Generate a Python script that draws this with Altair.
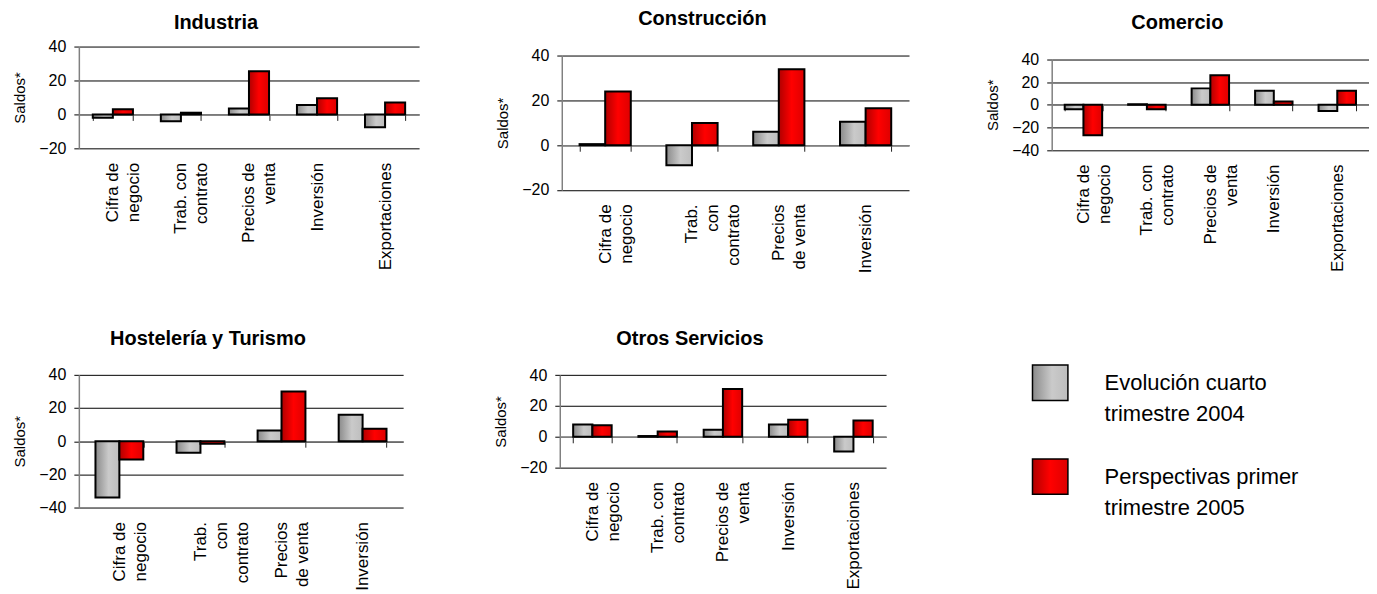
import altair as alt
import pandas as pd

SERIES = ["Evolución cuarto trimestre 2004", "Perspectivas primer trimestre 2005"]
LEGEND_TEXT = ["Evolución cuarto|trimestre 2004", "Perspectivas primer|trimestre 2005"]

CATS5 = ["Cifra de|negocio", "Trab. con|contrato", "Precios de|venta", "Inversión", "Exportaciones"]
CATS4 = ["Cifra de|negocio", "Trab.|con|contrato", "Precios|de venta", "Inversión"]

ind_evol = [-2, -4, 3.5, 5.5, -7.5]
ind_persp = [3, 1, 25.5, 9.5, 7]
con_evol = [0.5, -9, 6, 10.5]
con_persp = [24, 10, 34, 16.5]
com_evol = [-4, 0.5, 14.5, 12.5, -5.5]
com_persp = [-27, -4, 26, 3, 12.5]
hos_evol = [-34, -7, 6.5, 16]
hos_persp = [-11, -1.5, 30, 7.5]
otr_evol = [8, 0.5, 4.5, 8, -9.5]
otr_persp = [7.5, 3.5, 31, 11, 10.5]

FONT = "Liberation Sans"
YTITLE_SIZE = 15

GRAY = alt.Gradient(gradient="linear", x1=0, x2=1, y1=0, y2=0,
                    stops=[alt.GradientStop(color="#8a8a8a", offset=0),
                           alt.GradientStop(color="#cacaca", offset=0.55),
                           alt.GradientStop(color="#bdbdbd", offset=1)])
RED = alt.Gradient(gradient="linear", x1=0, x2=1, y1=0, y2=0,
                   stops=[alt.GradientStop(color="#b00000", offset=0),
                          alt.GradientStop(color="#ff0000", offset=0.5),
                          alt.GradientStop(color="#dd0000", offset=1)])


def panel(title, cats, evol, persp, ymin, w, h, top_pad, title_offset):
    df = pd.DataFrame({
        "cat": cats * 2,
        "serie": [SERIES[0]] * len(cats) + [SERIES[1]] * len(cats),
        "valor": evol + persp,
    })
    zfb = h * (0 - ymin) / (40 - ymin)
    H = h + top_pad
    base = alt.Chart(df).encode(
        x=alt.X("cat:N", sort=cats, title=None,
                scale=alt.Scale(paddingInner=0.41, paddingOuter=0.205),
                axis=alt.Axis(labelExpr="split(datum.label, '|')", labelAngle=270,
                              labelAlign="right", labelBaseline="middle",
                              labelFontSize=17, labelLineHeight=21, labelFont=FONT,
                              labelColor="black", labelOverlap=False,
                              labelPadding=zfb + 14 - 6,
                              offset=-zfb, grid=False,
                              domainColor="#808080", domainWidth=1.5,
                              tickColor="#222222", tickSize=6, tickBand="extent")),
        xOffset=alt.XOffset("serie:N", scale=alt.Scale(domain=SERIES, paddingInner=0, paddingOuter=0)),
        y=alt.Y("valor:Q",
                scale=alt.Scale(domain=[ymin, 40], nice=False, range=[H, top_pad]),
                axis=alt.Axis(title="Saldos*", values=list(range(ymin, 41, 20)), grid=True,
                              gridColor="black", gridWidth=1,
                              domainColor="#808080", domainWidth=1.5,
                              tickColor="black", tickSize=5, labelPadding=8,
                              labelFontSize=16, labelFont=FONT, labelColor="black",
                              titleFontSize=YTITLE_SIZE, titleFontWeight="normal", titleFont=FONT,
                              titleColor="black", titlePadding=11)),
    )
    g = base.transform_filter(alt.datum.serie == SERIES[0]).mark_bar(
        fill=GRAY, stroke="black", strokeWidth=2)
    r = base.transform_filter(alt.datum.serie == SERIES[1]).mark_bar(
        fill=RED, stroke="black", strokeWidth=2)
    return alt.layer(g, r).properties(
        width=w, height=H,
        title=alt.Title(title, offset=title_offset, fontSize=20, fontWeight="bold",
                        font=FONT, color="black", anchor="middle", frame="bounds"))


p1 = panel("Industria", CATS5, ind_evol, ind_persp, -20, 341, 102, 0, 6)
p2 = panel("Construcción", CATS4, con_evol, con_persp, -20, 348, 134.4, 9.3, 17.5)
p3 = panel("Comercio", CATS5, com_evol, com_persp, -40, 318, 90.7, 13, 13.5)
p4 = panel("Hostelería y Turismo", CATS4, hos_evol, hos_persp, -40, 325, 133, 0, 18)
p5 = panel("Otros Servicios", CATS5, otr_evol, otr_persp, -20, 327, 92.7, 0.3, 18)

leg_df = pd.DataFrame({"serie": SERIES, "texto": LEGEND_TEXT})
lbase = alt.Chart(leg_df).encode(
    y=alt.Y("serie:N", sort=SERIES,
            scale=alt.Scale(type="point", range=[8, 102], padding=0), axis=None))
lg = lbase.transform_filter(alt.datum.serie == SERIES[0]).mark_square(
    size=1260, fill=GRAY, stroke="black", strokeWidth=1.5, opacity=1).encode(x=alt.value(18.5))
lr = lbase.transform_filter(alt.datum.serie == SERIES[1]).mark_square(
    size=1260, fill=RED, stroke="black", strokeWidth=1.5, opacity=1).encode(x=alt.value(18.5))
lt = lbase.mark_text(align="left", baseline="top", dy=-10, fontSize=22, lineBreak="|",
                     lineHeight=31, font=FONT, color="black").encode(
    x=alt.value(73), text="texto:N")
legend = alt.layer(lg, lr, lt).properties(width=300, height=150)

RES = dict(x="independent", y="independent", xOffset="independent")
row1 = alt.hconcat(p1, p2, p3, spacing=76).resolve_scale(**RES)
row2a = alt.hconcat(p4, p5, spacing=90).resolve_scale(**RES)
row2 = alt.hconcat(row2a, legend, spacing=143).resolve_scale(**RES)
chart = alt.vconcat(row1, row2, spacing=56).resolve_scale(**RES).properties(
    padding={"left": 4, "top": 0, "right": 0, "bottom": 0}
).configure(font=FONT).configure_view(stroke=None).configure_axisY(
    titleFontSize=YTITLE_SIZE, titleFontWeight="normal", labelFontSize=16
)

chart.save("out.html", embed_options={"renderer": "svg", "actions": False})
